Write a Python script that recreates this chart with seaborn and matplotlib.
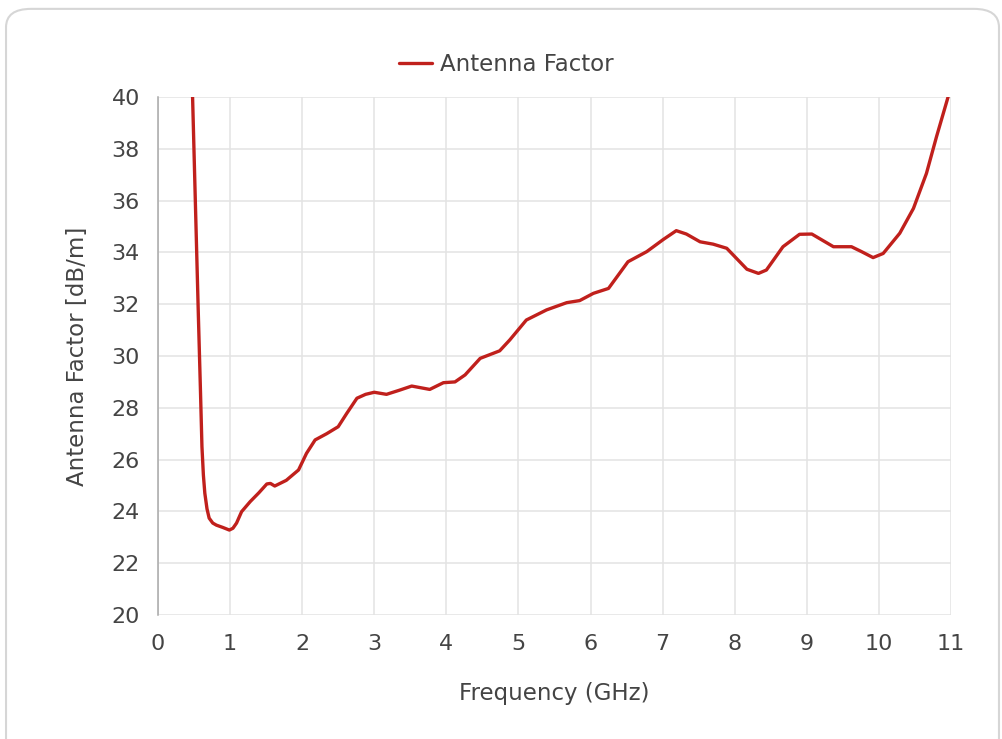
import matplotlib
matplotlib.use("Agg")
import matplotlib.pyplot as plt
from matplotlib.patches import FancyBboxPatch
import pandas as pd
import seaborn as sns

# values
freq_ghz = [0.46, 0.48, 0.52, 0.56, 0.59, 0.61, 0.63, 0.65, 0.68, 0.71, 0.76, 0.81, 0.90,
            0.99, 1.04, 1.09, 1.16, 1.28, 1.40, 1.51, 1.56, 1.62, 1.78, 1.95, 2.06, 2.18,
            2.34, 2.50, 2.62, 2.76, 2.88, 3.00, 3.17, 3.35, 3.52, 3.77, 3.96, 4.12, 4.26,
            4.47, 4.74, 4.88, 5.11, 5.39, 5.67, 5.85, 6.04, 6.25, 6.52, 6.78, 7.01, 7.19,
            7.33, 7.52, 7.70, 7.89, 8.17, 8.33, 8.44, 8.67, 8.90, 9.07, 9.37, 9.62, 9.76,
            9.92, 10.06, 10.29, 10.48, 10.66, 10.80, 10.96, 11.0]
antenna_factor = [41.5, 40.0, 35.8, 31.6, 28.6, 26.5, 25.4, 24.7, 24.1, 23.74, 23.55, 23.47,
                  23.38, 23.28, 23.35, 23.55, 23.99, 24.38, 24.72, 25.06, 25.08, 24.98, 25.2,
                  25.6, 26.24, 26.76, 27.0, 27.27, 27.79, 28.37, 28.52, 28.6, 28.52, 28.68,
                  28.84, 28.71, 28.97, 29.0, 29.27, 29.91, 30.2, 30.62, 31.39, 31.78, 32.06,
                  32.14, 32.42, 32.61, 33.64, 34.03, 34.5, 34.84, 34.71, 34.41, 34.32, 34.16,
                  33.35, 33.19, 33.32, 34.22, 34.7, 34.71, 34.22, 34.22, 34.03, 33.8, 33.96,
                  34.74, 35.7, 37.05, 38.47, 40.0, 40.4]
series_name = "Antenna Factor"
x_ticks = list(range(0, 12))
y_ticks = list(range(20, 41, 2))

df = pd.DataFrame({"Frequency (GHz)": freq_ghz, series_name: antenna_factor})

sns.set_style("white")
plt.rcParams['font.family'] = ['DejaVu Sans']

fig = plt.figure(figsize=(10.03, 7.39), dpi=100)
fig.patch.set_facecolor("white")

# rounded card behind the chart
card = FancyBboxPatch((0.006, -0.05), 0.99, 1.038, boxstyle="round,pad=0,rounding_size=0.025",
                      transform=fig.transFigure, facecolor="white", edgecolor="#d6d6d6",
                      linewidth=1.5, zorder=-5)
fig.patches.append(card)

ax = fig.add_axes([0.1575, 0.1678, 0.7906, 0.7009])
ax.set_facecolor("none")
ax.set_zorder(2)

sns.lineplot(data=df, x="Frequency (GHz)", y=series_name, ax=ax, color="#c0201c",
             linewidth=2.4, label=series_name, legend=False, sort=False, zorder=3)
ax.lines[0].set_solid_joinstyle("round")
ax.lines[0].set_solid_capstyle("round")

ax.set_xlim(0, 11)
ax.set_ylim(20, 40)
ax.set_xticks(x_ticks)
ax.set_yticks(y_ticks)
ax.grid(True, color="#e3e3e3", linewidth=1.1)
ax.tick_params(axis="both", length=8, width=1.1, color="#e3e3e3", labelsize=16,
               labelcolor="#444444")
ax.tick_params(axis="x", pad=6)
ax.tick_params(axis="y", pad=5)
for side in ["top", "right", "bottom"]:
    ax.spines[side].set_visible(False)
ax.spines["left"].set_color("#a8a8a8")
ax.spines["left"].set_linewidth(1.1)

ax.set_xlabel("Frequency (GHz)", fontsize=16.5, color="#444444", labelpad=20)
ax.set_ylabel("Antenna Factor [dB/m]", fontsize=16.5, color="#444444", labelpad=16)

handles, labels = ax.get_legend_handles_labels()
fig.legend(handles, labels, loc="center", bbox_to_anchor=(0.505, 0.913), frameon=False,
           fontsize=16.5, handlelength=1.45, handletextpad=0.35, labelcolor="#444444")

fig.savefig("out.png", dpi=100)
